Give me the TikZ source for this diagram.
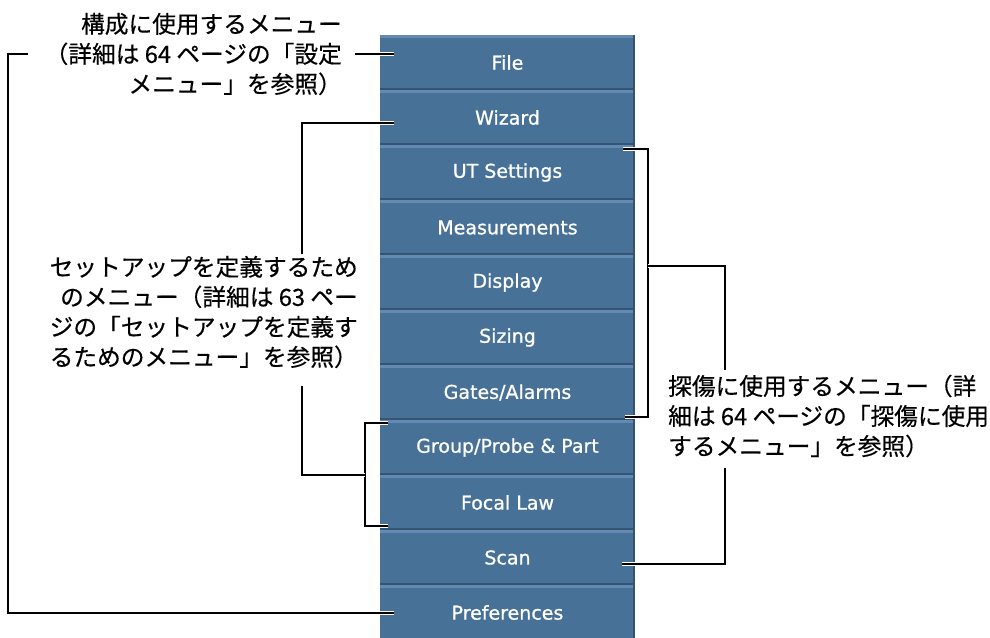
\documentclass[tikz,border=0pt]{standalone}
\usepackage{fontspec}
\usepackage{xcolor}
\usepackage{tikz}
\newfontfamily\jpfont[FakeBold=0.4]{Noto Sans CJK JP}
\newfontfamily\btnfont[FakeBold=0.9]{DejaVu Sans}

\begin{document}
\begin{tikzpicture}[x=1pt,y=-1pt,
  menubtn/.style={fill=colBtn,minimum width=255pt,minimum height=55pt,inner sep=0pt,
    text=white,font=\btnfont\fontsize{19}{19}\selectfont,
    path picture={
      \fill[colBtnLt](path picture bounding box.north west)rectangle([yshift=-2.5pt]path picture bounding box.north east);
      \fill[colBtnDk]([yshift=2.5pt]path picture bounding box.south west)rectangle(path picture bounding box.south east);
      \fill[colBtnDk]([xshift=-2.5pt]path picture bounding box.north east)rectangle(path picture bounding box.south east);
    }},
  note/.style={inner sep=0pt,font=\jpfont\fontsize{23.7}{30}\selectfont},
  conn/.style={line width=2pt,preaction={draw=white,line width=4pt}}]
  \definecolor{colBtn}  {RGB}{ 72,113,152}
  \definecolor{colBtnLt}{RGB}{ 98,138,178}
  \definecolor{colBtnDk}{RGB}{ 52, 84,114}
  \useasboundingbox(0,0)rectangle(990,637);
  \foreach \nm/\lbl [count=\i] in {file/File,wizard/Wizard,ut/UT Settings,meas/Measurements,
      display/Display,sizing/Sizing,gates/{Gates/Alarms},group/{Group/Probe \& Part},
      focal/Focal Law,scan/Scan,pref/Preferences}{
    \node[menubtn](\nm)at(507.5,7.5+55*\i){\lbl};
  }
  \node[note,anchor=east,align=right](cfg)at(342,54)
    {構成に使用するメニュー\\（詳細は 64 ページの「設定\\メニュー」を参照）};
  \node[note,anchor=east,align=right](setup)at(358,312)
    {セットアップを定義するため\\のメニュー（詳細は 63 ペー\\ジの「セットアップを定義す\\るためのメニュー」を参照）};
  \node[note,anchor=west,align=left](test)at(668,416)
    {探傷に使用するメニュー（詳\\細は 64 ページの「探傷に使用\\するメニュー」を参照）};
  \coordinate(fileIn)at([shift={(14,-8.5)}]file.west);
  \coordinate(wizIn)at([shift={(14,5.5)}]wizard.west);
  \coordinate(prefIn)at([xshift=14pt]pref.west);
  \coordinate(cfgStub)at(28,54);
  \draw[conn]([xshift=13pt]cfg.east)--(fileIn);
  \draw[conn](cfgStub)--++(-20,0)|-(prefIn);
  \draw[conn]([xshift=-56pt,yshift=2pt]setup.north east)|-(wizIn);
  \draw[conn]([shift={(8,3)}]group.north west)--++(-23,0)|-([shift={(8,-4)}]focal.south west);
  \draw[conn]([xshift=-56pt,yshift=-18pt]setup.south east)|-([xshift=-15pt]focal.north west);
  \draw[conn]([shift={(-12,4)}]ut.north east)-|([shift={(13,-3)}]gates.south east)
    --([shift={(-10,-3)}]gates.south east);
  \draw[conn]([xshift=57pt,yshift=5pt]test.north west)|-([shift={(13,11)}]display.north east);
  \draw[conn]([xshift=57pt,yshift=-11pt]test.south west)|-([shift={(-13,6.5)}]scan.east);
\end{tikzpicture}
\end{document}
